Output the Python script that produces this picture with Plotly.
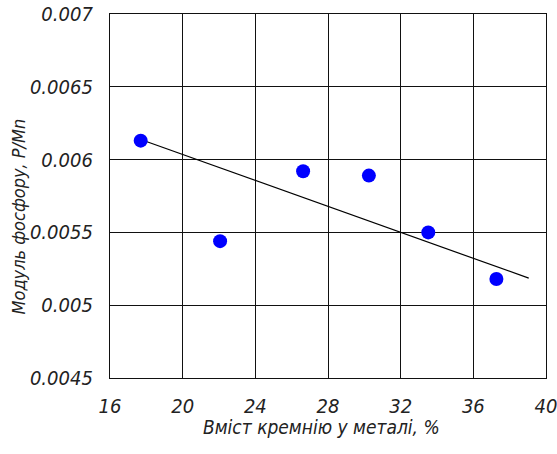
import plotly.graph_objects as go

# Data
silicon_pct = [17.69, 22.06, 26.63, 30.25, 33.52, 37.27]
p_mn_modulus = [0.00613, 0.00544, 0.00592, 0.00589, 0.00550, 0.00518]

trend_x = [17.69, 39.05]
trend_y = [0.006138, 0.005186]

x_ticks = [16, 20, 24, 28, 32, 36, 40]
y_ticks = [0.0045, 0.005, 0.0055, 0.006, 0.0065, 0.007]
y_tick_text = ["0.0045", "0.005", "0.0055", "0.006", "0.0065", "0.007"]

x_title = "Вміст кремнію у металі, %"
y_title = "Модуль фосфору, P/Mn"

FONT = "DejaVu Sans Condensed, Liberation Sans Narrow, Roboto, sans-serif"

fig = go.Figure()
fig.add_trace(go.Scatter(x=trend_x, y=trend_y, mode="lines",
                         line=dict(color="black", width=1.2), showlegend=False))
fig.add_trace(go.Scatter(x=silicon_pct, y=p_mn_modulus, mode="markers",
                         marker=dict(color="#0000ff", size=14), showlegend=False))

axis_common = dict(showgrid=True, gridcolor="#111", gridwidth=1.3,
                   showline=True, linecolor="#111", linewidth=1.3, mirror=True,
                   zeroline=False, ticks="", automargin=False,
                   ticklabeloverflow="allow",
                   tickfont=dict(family=FONT, size=20, color="#222", style="italic"))

fig.update_xaxes(range=[16, 40], tickvals=x_ticks, ticklabelstandoff=10, **axis_common)
fig.update_yaxes(range=[0.0045, 0.007], tickvals=y_ticks, ticktext=y_tick_text,
                 ticklabelstandoff=12, **axis_common)

fig.add_annotation(text=x_title, xref="paper", yref="paper", x=0.484, y=-0.135,
                   xanchor="center", yanchor="middle", showarrow=False,
                   font=dict(family=FONT, size=19, color="#222", style="italic"))
fig.add_annotation(text=y_title, xref="paper", yref="paper", x=-0.21, y=0.445,
                   xanchor="center", yanchor="middle", showarrow=False, textangle=-90,
                   font=dict(family=FONT, size=18, color="#222", style="italic"))

fig.update_layout(width=557, height=454, margin=dict(l=110, r=11, t=14, b=76),
                  plot_bgcolor="white", paper_bgcolor="white")

fig.write_html("out.html", config={"displayModeBar": False},
               post_script="document.body.style.margin='0';document.body.style.overflow='hidden';")
